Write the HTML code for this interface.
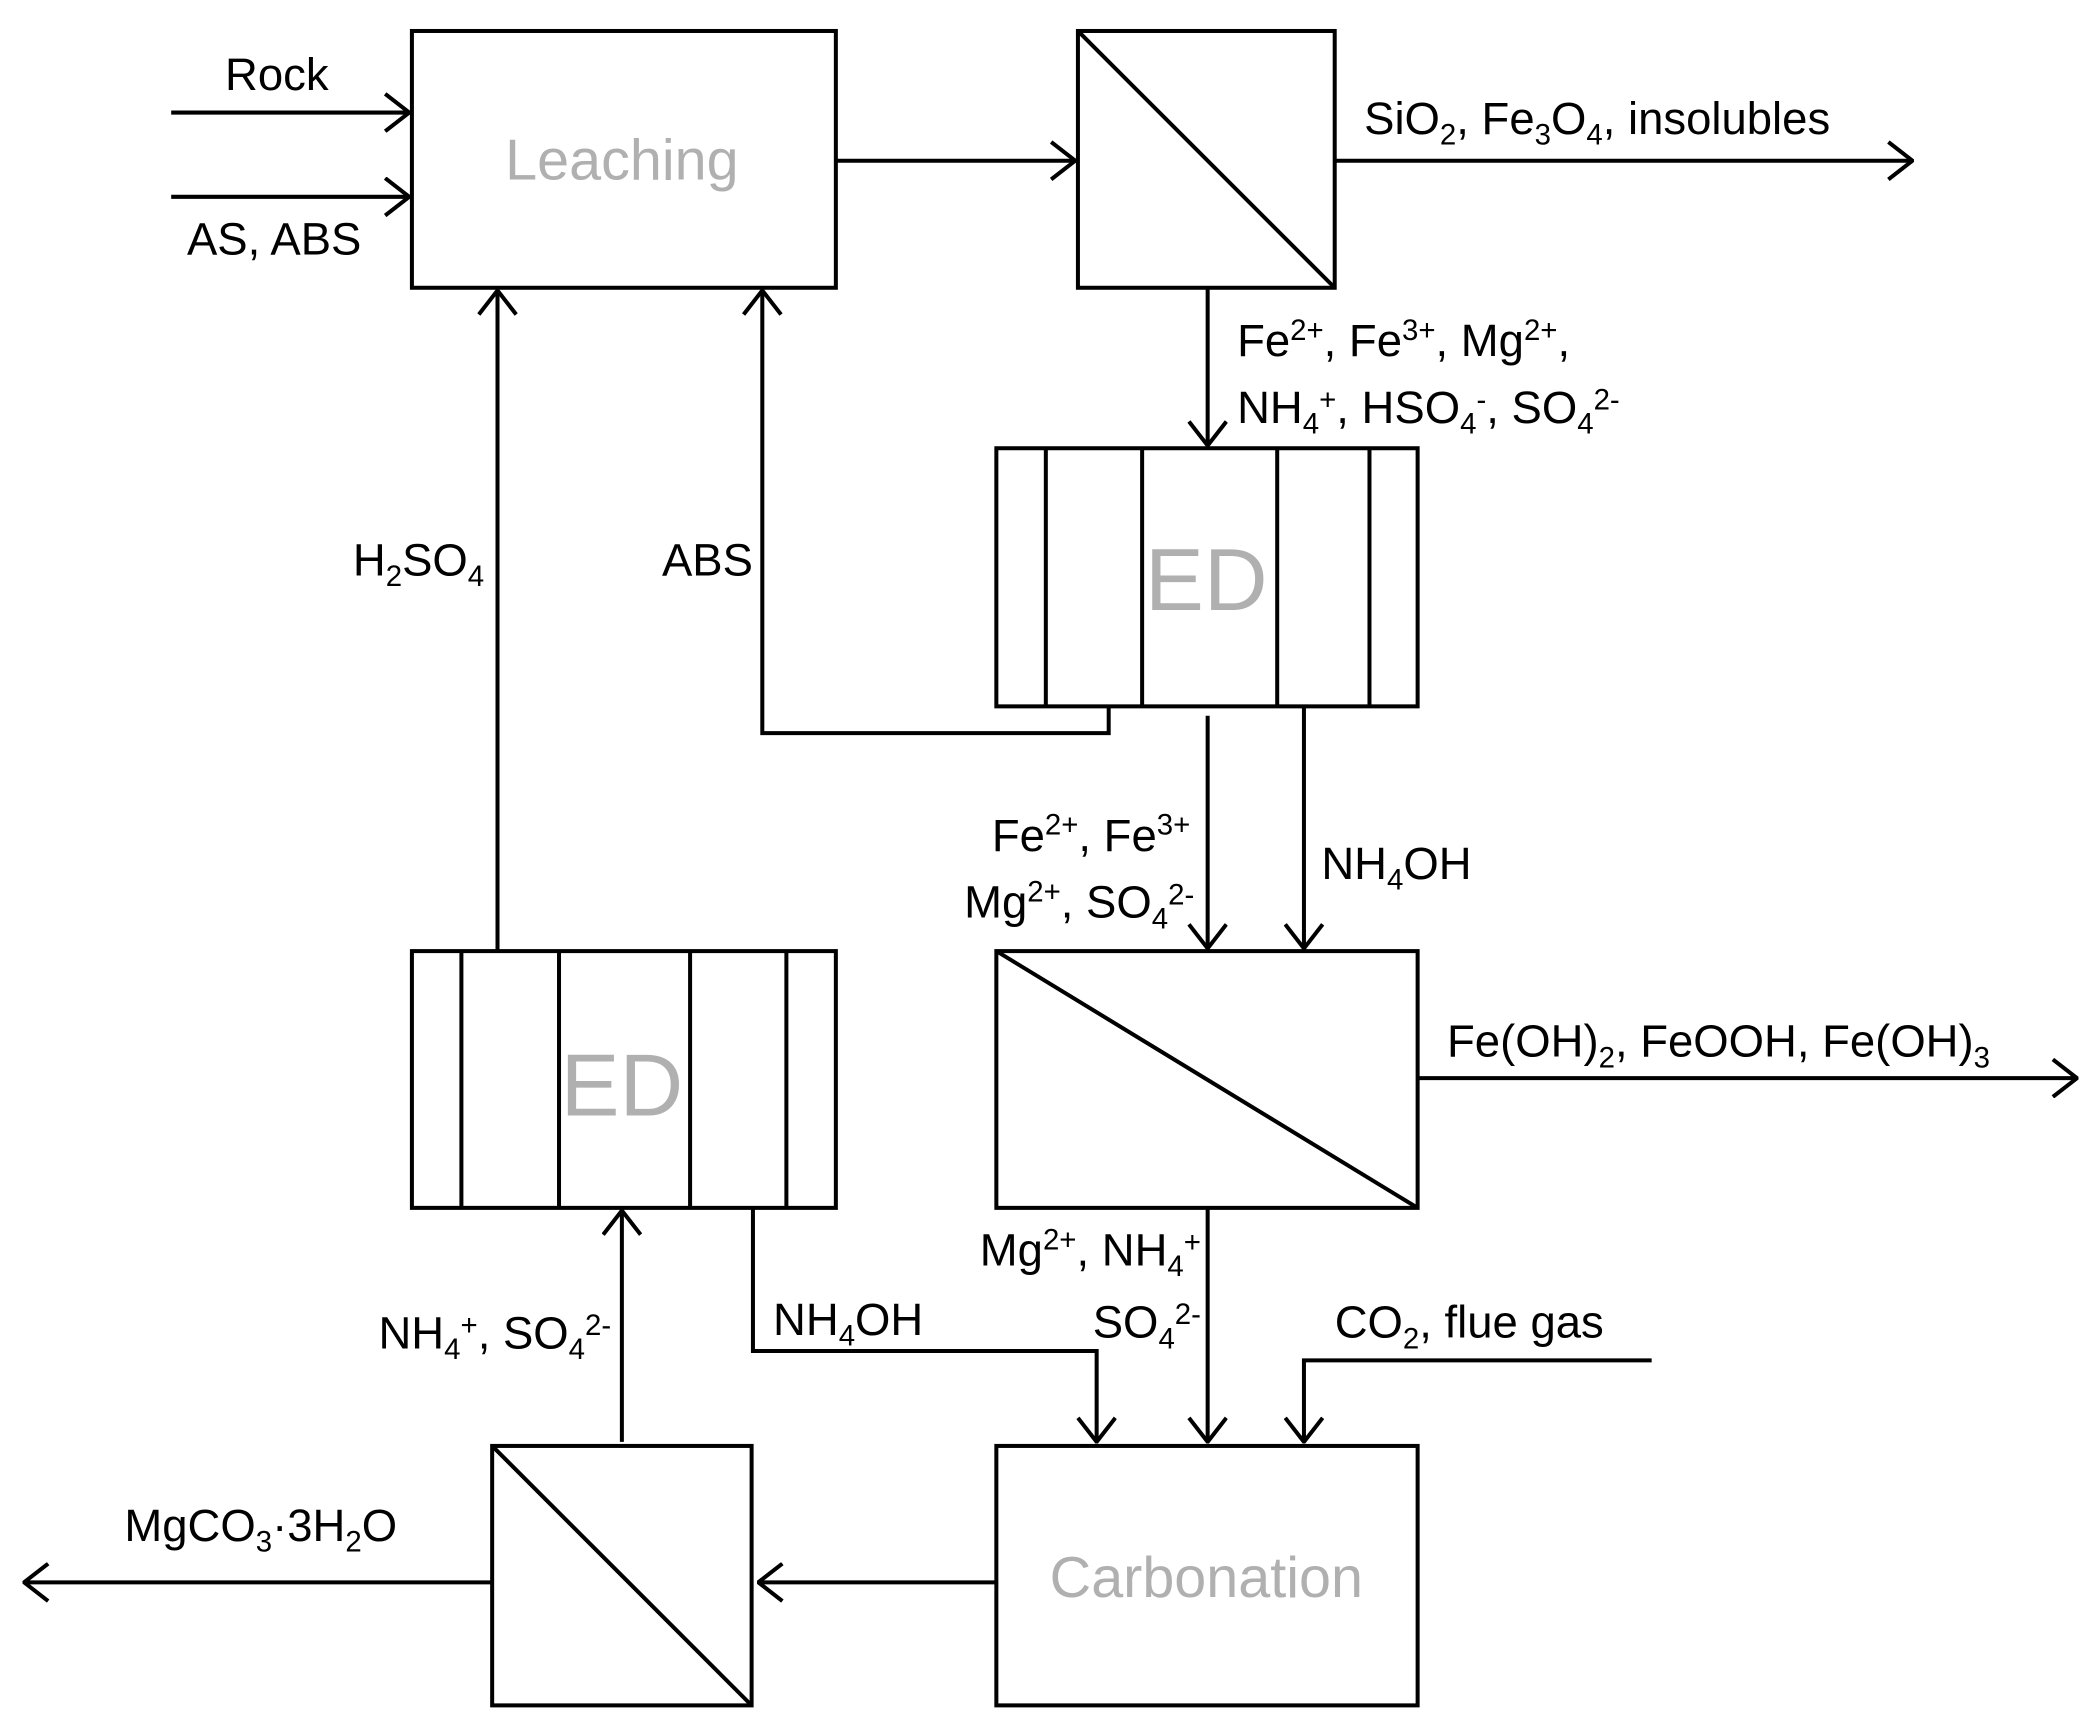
<!DOCTYPE html>
<html><head><meta charset="utf-8"><style>
html,body{margin:0;padding:0;background:#fff;}
svg{display:block;}
text{font-family:"Liberation Sans",sans-serif;font-size:34px;fill:#000;}
text.g{fill:#b0b0b0;font-size:43px;}
text.ed{fill:#b0b0b0;font-size:66px;}
.s{font-size:22px;}
</style></head><body>
<svg width="2093" height="1727" viewBox="0 0 1565 1291" xmlns="http://www.w3.org/2000/svg">
<defs>
<marker id="a" viewBox="0 0 20 30" refX="19" refY="15" markerWidth="20" markerHeight="30" markerUnits="userSpaceOnUse" orient="auto">
<path d="M1,1 L19,15 L1,29" fill="none" stroke="#000" stroke-width="3"/>
</marker>
</defs>
<g fill="none" stroke="#000" stroke-width="3">
<rect x="308" y="23" width="317" height="192"/>
<rect x="806" y="23" width="192" height="192"/>
<line x1="806" y1="23" x2="998" y2="215"/>
<rect x="745" y="335" width="315" height="193"/>
<line x1="782" y1="335" x2="782" y2="528"/><line x1="854" y1="335" x2="854" y2="528"/>
<line x1="955" y1="335" x2="955" y2="528"/><line x1="1024" y1="335" x2="1024" y2="528"/>
<rect x="745" y="711" width="315" height="192"/>
<line x1="745" y1="711" x2="1060" y2="903"/>
<rect x="308" y="711" width="317" height="192"/>
<line x1="345" y1="711" x2="345" y2="903"/><line x1="418" y1="711" x2="418" y2="903"/>
<line x1="516" y1="711" x2="516" y2="903"/><line x1="588" y1="711" x2="588" y2="903"/>
<rect x="745" y="1081" width="315" height="194"/>
<rect x="368" y="1081" width="194" height="194"/>
<line x1="368" y1="1081" x2="562" y2="1275"/>
<line x1="128" y1="84" x2="306" y2="84" marker-end="url(#a)"/>
<line x1="128" y1="147" x2="306" y2="147" marker-end="url(#a)"/>
<line x1="625" y1="120" x2="804" y2="120" marker-end="url(#a)"/>
<line x1="998" y1="120" x2="1430" y2="120" marker-end="url(#a)"/>
<line x1="903" y1="215" x2="903" y2="333" marker-end="url(#a)"/>
<polyline points="829,528 829,548 570,548 570,217" marker-end="url(#a)"/>
<line x1="903" y1="535" x2="903" y2="709" marker-end="url(#a)"/>
<line x1="975" y1="528" x2="975" y2="709" marker-end="url(#a)"/>
<line x1="1060" y1="806" x2="1553" y2="806" marker-end="url(#a)"/>
<line x1="372" y1="711" x2="372" y2="217" marker-end="url(#a)"/>
<polyline points="563,903 563,1010 820,1010 820,1078" marker-end="url(#a)"/>
<line x1="903" y1="903" x2="903" y2="1078" marker-end="url(#a)"/>
<polyline points="1235,1017 975,1017 975,1078" marker-end="url(#a)"/>
<line x1="745" y1="1183" x2="567" y2="1183" marker-end="url(#a)"/>
<line x1="465" y1="1078" x2="465" y2="905" marker-end="url(#a)"/>
<line x1="368" y1="1183" x2="18" y2="1183" marker-end="url(#a)"/>
</g>
<text x="207" y="67" text-anchor="middle">Rock</text>
<text x="205" y="190" text-anchor="middle">AS, ABS</text>
<text class="g" x="465" y="134" text-anchor="middle">Leaching</text>
<text x="1020" y="100">SiO<tspan class="s" dy="8">2</tspan><tspan dy="-8">, Fe</tspan><tspan class="s" dy="8">3</tspan><tspan dy="-8">O</tspan><tspan class="s" dy="8">4</tspan><tspan dy="-8">, insolubles</tspan></text>
<text x="925" y="266">Fe<tspan class="s" dy="-12">2+</tspan><tspan dy="12">, Fe</tspan><tspan class="s" dy="-12">3+</tspan><tspan dy="12">, Mg</tspan><tspan class="s" dy="-12">2+</tspan><tspan dy="12">,</tspan></text>
<text x="925" y="316">NH<tspan class="s" dy="8">4</tspan><tspan class="s" dy="-18">+</tspan><tspan dy="10">, HSO</tspan><tspan class="s" dy="8">4</tspan><tspan class="s" dy="-18">-</tspan><tspan dy="10">, SO</tspan><tspan class="s" dy="8">4</tspan><tspan class="s" dy="-18">2-</tspan></text>
<text class="ed" x="902" y="456" text-anchor="middle">ED</text>
<text x="362" y="430" text-anchor="end">H<tspan class="s" dy="8">2</tspan><tspan dy="-8">SO</tspan><tspan class="s" dy="8">4</tspan></text>
<text x="563" y="430" text-anchor="end">ABS</text>
<text x="890" y="636" text-anchor="end">Fe<tspan class="s" dy="-12">2+</tspan><tspan dy="12">, Fe</tspan><tspan class="s" dy="-12">3+</tspan></text>
<text x="893" y="686" text-anchor="end">Mg<tspan class="s" dy="-12">2+</tspan><tspan dy="12">, SO</tspan><tspan class="s" dy="8">4</tspan><tspan class="s" dy="-18">2-</tspan></text>
<text x="988" y="657">NH<tspan class="s" dy="8">4</tspan><tspan dy="-8">OH</tspan></text>
<text x="1082" y="790">Fe(OH)<tspan class="s" dy="8">2</tspan><tspan dy="-8">, FeOOH, Fe(OH)</tspan><tspan class="s" dy="8">3</tspan></text>
<text class="ed" x="465" y="834" text-anchor="middle">ED</text>
<text x="898" y="946" text-anchor="end">Mg<tspan class="s" dy="-12">2+</tspan><tspan dy="12">, NH</tspan><tspan class="s" dy="8">4</tspan><tspan class="s" dy="-18">+</tspan></text>
<text x="898" y="1000" text-anchor="end">SO<tspan class="s" dy="8">4</tspan><tspan class="s" dy="-18">2-</tspan></text>
<text x="578" y="998">NH<tspan class="s" dy="8">4</tspan><tspan dy="-8">OH</tspan></text>
<text x="998" y="1000">CO<tspan class="s" dy="8">2</tspan><tspan dy="-8">, flue gas</tspan></text>
<text x="457" y="1008" text-anchor="end">NH<tspan class="s" dy="8">4</tspan><tspan class="s" dy="-18">+</tspan><tspan dy="10">, SO</tspan><tspan class="s" dy="8">4</tspan><tspan class="s" dy="-18">2-</tspan></text>
<text class="g" x="902" y="1194" text-anchor="middle">Carbonation</text>
<text x="93" y="1152">MgCO<tspan class="s" dy="8">3</tspan><tspan dy="-8">·3H</tspan><tspan class="s" dy="8">2</tspan><tspan dy="-8">O</tspan></text>
</svg>
</body></html>
